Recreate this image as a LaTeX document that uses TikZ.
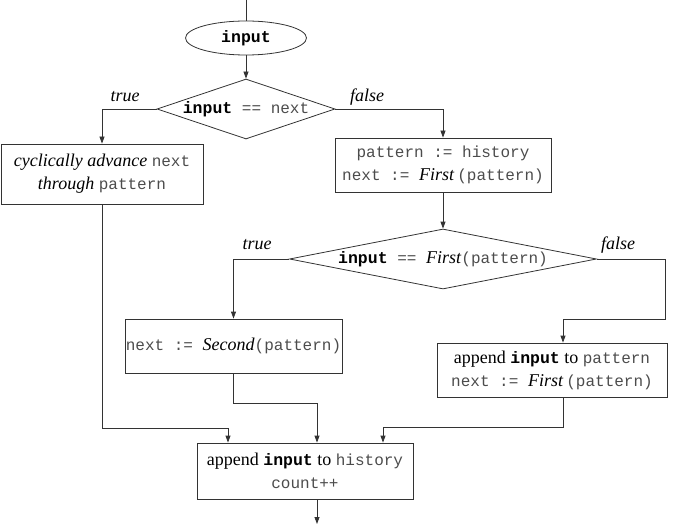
\documentclass[tikz,border=0pt]{standalone}
\usepackage{fontspec}
\setmainfont{Liberation Serif}
\setmonofont{Liberation Mono}
\usetikzlibrary{shapes.geometric,arrows.meta,calc}
\definecolor{monogray}{gray}{0.3}
\definecolor{linegray}{gray}{0.2}
\newcommand\mt[1]{{\fontsize{16}{22}\selectfont\ttfamily\color{monogray}#1}}
\newcommand\inp{{\fontsize{16.5}{22}\selectfont\ttfamily\bfseries input}}
\begin{document}
\begin{tikzpicture}[x=1pt,y=-1pt,
  every node/.style={font=\fontsize{18}{23}\selectfont},
  procbox/.style={draw=linegray,line width=0.8pt,rectangle,inner sep=0pt,align=center},
  decbox/.style={draw=linegray,line width=0.8pt,diamond,inner sep=0pt,align=center},
  termbox/.style={draw=linegray,line width=0.8pt,ellipse,inner sep=0pt,minimum width=121pt,minimum height=34pt},
  lbl/.style={font=\fontsize{18}{20}\selectfont\itshape},
  conn/.style={draw=linegray,line width=0.8pt},
  arr/.style={conn,-{Triangle[length=7pt,width=5pt]}}
]
\useasboundingbox (0,0) rectangle (685,524);

\node[termbox] (ell) at (246,38) {\inp};
\node[decbox,aspect=3,minimum width=178pt,minimum height=60pt] (d1) at (246,109) {\inp\mt{\ == next}};
\node[procbox,minimum width=202pt,minimum height=60pt] (b1) at (102,174) {\textit{cyclically advance} \mt{next}\\\textit{through} \mt{pattern}};
\node[procbox,minimum width=216pt,minimum height=54pt] (b2) at (443,165) {\mt{pattern := history}\\\mt{next := }\textit{First}\,\mt{(pattern)}};
\node[decbox,aspect=5,minimum width=307pt,minimum height=60pt] (d2) at (443,259) {\inp\mt{\ == }\textit{First}\mt{(pattern)}};
\node[procbox,minimum width=217pt,minimum height=54pt] (b3) at (233.5,346) {\mt{next := }\textit{Second}\mt{(pattern)}};
\node[procbox,minimum width=230pt,minimum height=54pt] (b4) at (552,370) {append \inp\ to \mt{pattern}\\\mt{next := }\textit{First}\,\mt{(pattern)}};
\node[procbox,minimum width=216pt,minimum height=56pt] (b5) at (305,471) {append \inp\ to \mt{history}\\\mt{count++}};

\node[lbl] (t1) at (125,97) {true};
\node[lbl] (f1) at (367,97) {false};
\node[lbl] (t2) at (257,245) {true};
\node[lbl] (f2) at (618,245) {false};

\coordinate (top) at (246,0);
\coordinate (r1) at (665,319);
\coordinate (c4) at (563,319);
\coordinate (j1) at (228,428);
\coordinate (j3a) at (233,403);
\coordinate (j3) at (317,403);
\coordinate (b4o) at (563,397);
\coordinate (j4a) at (563,427);
\coordinate (j4) at (383,427);
\coordinate (bot) at (317,524);

\draw[conn] (top) -- (ell.north);
\draw[arr] (ell.south) -- (d1.north);
\draw[arr] (d1.west) -| (b1.north);
\draw[arr] (d1.east) -| (b2.north);
\draw[arr] (b2.south) -- (d2.north);
\draw[arr] (d2.west) -| (b3.north);
\draw[arr] (d2.east) -| (r1) -- (c4) -- (c4 |- b4.north);
\draw[arr] (b1.south) |- (j1) -- (j1 |- b5.north);
\draw[arr] (j3a |- b3.south) -- (j3a) -- (j3) -- (j3 |- b5.north);
\draw[arr] (b4o) -- (j4a) -- (j4) -- (j4 |- b5.north);
\draw[arr] (j3 |- b5.south) -- (bot);
\end{tikzpicture}
\end{document}
